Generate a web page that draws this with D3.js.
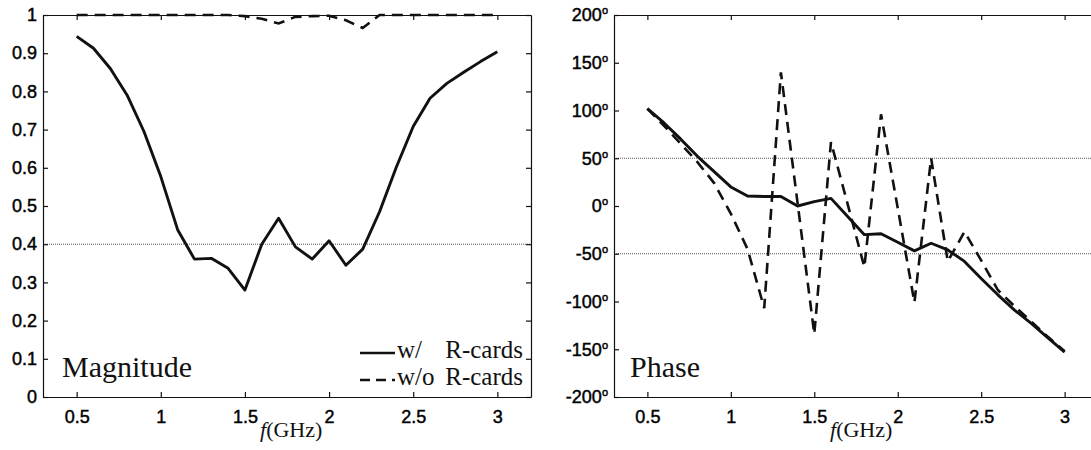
<!DOCTYPE html>
<html>
<head>
<meta charset="utf-8">
<script src="https://cdn.jsdelivr.net/npm/d3@7"></script>
<style>
  html, body { margin: 0; padding: 0; background: #fff; }
  svg { display: block; }
  .tick text { font-family: "Liberation Sans", Arial, sans-serif; font-size: 18px; fill: #000; stroke: #000; stroke-width: 0.45px; }
  .serif { font-family: "Liberation Serif", "Times New Roman", serif; fill: #111; }
</style>
</head>
<body>
<svg id="chart" width="1091" height="450"></svg>
<script>
// ---- data ----
const freq = [0.5, 0.6, 0.7, 0.8, 0.9, 1.0, 1.1, 1.2, 1.3, 1.4, 1.5, 1.6, 1.7, 1.8, 1.9,
              2.0, 2.1, 2.2, 2.3, 2.4, 2.5, 2.6, 2.7, 2.8, 2.9, 3.0];
const magWith = [0.944, 0.913, 0.86, 0.79, 0.695, 0.577, 0.438, 0.361, 0.363, 0.337, 0.28, 0.40, 0.468,
                 0.393, 0.361, 0.409, 0.345, 0.387, 0.485, 0.602, 0.708, 0.782, 0.821, 0.85, 0.878, 0.904];
const magWithout = [1, 1, 1, 1, 1, 1, 1, 1, 1, 1, 0.997, 0.99, 0.978,
                    0.995, 0.997, 0.998, 0.986, 0.966, 1, 1, 1, 1, 1, 1, 1, 1];
const phaseWith = [102, 87, 70, 52, 36, 20, 10.5, 10, 10, 0, 4.5, 8, -11,
                   -30, -29, -38, -47, -39, -46, -58, -76, -93, -109, -123, -138, -153];
const phaseWithout = [102, 84, 65, 46, 24, -8, -45, -107, 140, 3, -134, 67, 2,
                      -64, 96, -2, -101, 50, -58, -27, -57, -88, -105, -121, -137, -152];
const xTicks = [0.5, 1, 1.5, 2, 2.5, 3];
const magTicks = [0, 0.1, 0.2, 0.3, 0.4, 0.5, 0.6, 0.7, 0.8, 0.9, 1];
const phaseTicks = [-200, -150, -100, -50, 0, 50, 100, 150, 200];
const magGrid = [0.4];
const phaseGrid = [-50, 50];
const legendLabels = ["w/", "w/o"];
const legendSuffix = "R-cards";

// ---- drawing ----
const svg = d3.select("#chart");

function panel(opts) {
  const x = d3.scaleLinear().domain([0.3, 3.2]).range(opts.xr);
  const y = d3.scaleLinear().domain(opts.yd).range([397, 15]);
  const g = svg.append("g");
  const [x0, x1] = opts.xr;

  // gridlines
  g.selectAll(".grid").data(opts.grid).join("line")
    .attr("x1", x0).attr("x2", x1)
    .attr("y1", d => y(d)).attr("y2", d => y(d))
    .attr("stroke", "#555").attr("stroke-width", 1).attr("stroke-dasharray", "1,1");

  // axes
  g.append("g").attr("transform", `translate(0,397)`)
    .call(d3.axisBottom(x).tickValues(xTicks).tickFormat(d3.format("")).tickSizeInner(-5).tickSizeOuter(0).tickPadding(13));
  g.append("g").attr("transform", `translate(0,15)`)
    .call(d3.axisTop(x).tickValues(xTicks).tickFormat("").tickSizeInner(-5).tickSizeOuter(0));
  const left = g.append("g").attr("transform", `translate(${x0},0)`)
    .call(d3.axisLeft(y).tickValues(opts.yTicks).tickFormat(opts.fmt).tickSizeInner(-5).tickSizeOuter(0).tickPadding(6));
  if (opts.rightBorder) {
    g.append("g").attr("transform", `translate(${x1},0)`)
      .call(d3.axisRight(y).tickValues(opts.yTicks).tickFormat("").tickSizeInner(-5).tickSizeOuter(0));
  }
  g.selectAll(".domain").attr("stroke", "#111").attr("stroke-width", 1.2);
  g.selectAll(".tick line").attr("stroke", "#111").attr("stroke-width", 1.2);
  if (opts.degree) {
    left.selectAll(".tick text").each(function(d) {
      const t = d3.select(this);
      t.text(d);
      t.append("tspan").attr("font-size", "11px").attr("dy", "-7").text("o");
    });
  }

  // lines
  const line = d3.line().x((d, i) => x(freq[i])).y(d => y(d));
  g.append("path").datum(opts.s2)
    .attr("fill", "none").attr("stroke", "#111").attr("stroke-width", 2.6)
    .attr("stroke-dasharray", "11,7").attr("d", line);
  g.append("path").datum(opts.s1)
    .attr("fill", "none").attr("stroke", "#111").attr("stroke-width", 2.9)
    .attr("stroke-linejoin", "round").attr("d", line);

  // x label
  const lab = g.append("text").attr("class", "serif")
    .attr("x", opts.labelX).attr("y", 437).attr("font-size", "22px");
  lab.append("tspan").attr("font-style", "italic").text("f");
  lab.append("tspan").text("(GHz)");

  // title
  g.append("text").attr("class", "serif")
    .attr("x", opts.titleX).attr("y", 377).attr("font-size", "30px").text(opts.title);
  return { x, y, g };
}

panel({
  xr: [43, 531], yd: [0, 1], yTicks: magTicks, fmt: d3.format(""), grid: magGrid,
  s1: magWith, s2: magWithout, rightBorder: true, degree: false,
  title: "Magnitude", titleX: 62, labelX: 260
});
panel({
  xr: [614, 1098], yd: [-200, 200], yTicks: phaseTicks, fmt: d3.format(""), grid: phaseGrid,
  s1: phaseWith, s2: phaseWithout, rightBorder: false, degree: true,
  title: "Phase", titleX: 630, labelX: 830
});

// legend
const leg = svg.append("g");
legendLabels.forEach((lbl, i) => {
  const yy = 353 + i * 27;
  leg.append("line").attr("x1", 360).attr("x2", 395).attr("y1", yy).attr("y2", yy)
    .attr("stroke", "#111").attr("stroke-width", 2.6)
    .attr("stroke-dasharray", i === 0 ? null : "10,6");
  leg.append("text").attr("class", "serif").attr("x", 397).attr("y", yy + 5)
    .attr("font-size", "25px").text(lbl);
  leg.append("text").attr("class", "serif").attr("x", 523).attr("y", yy + 5)
    .attr("text-anchor", "end").attr("font-size", "25px").text(legendSuffix);
});
</script>
</body>
</html>
